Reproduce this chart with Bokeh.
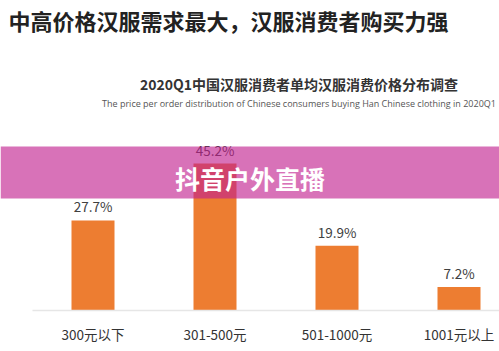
from bokeh.plotting import figure
from bokeh.models import Range1d, FixedTicker, Label, BoxAnnotation, ColumnDataSource
from bokeh.core.properties import value
from bokeh.embed import file_html
from bokeh.resources import INLINE

# ---- data ----
categories = ["300元以下", "301-500元", "501-1000元", "1001元以上"]
shares = [27.7, 45.2, 19.9, 7.2]
share_labels = ["27.7%", "45.2%", "19.9%", "7.2%"]

headline = "中高价格汉服需求最大，汉服消费者购买力强"
chart_title = "2020Q1中国汉服消费者单均汉服消费价格分布调查"
chart_subtitle = "The price per order distribution of Chinese consumers buying Han Chinese clothing in 2020Q1"
banner_text = "抖音户外直播"

CJK = "Noto Sans CJK SC"
W, H = 499, 351
PX_PER_CAT = 122.0
X0 = -92.5 / PX_PER_CAT
X1 = X0 + W / PX_PER_CAT
FRAME_H = 310
PX_PER_UNIT = 3.25
Y1 = FRAME_H / PX_PER_UNIT


def xd(px):
    return X0 + px / PX_PER_CAT


def yd(py):
    return (FRAME_H - py) / PX_PER_UNIT


xs = list(range(len(categories)))
src = ColumnDataSource(dict(x=xs, top=shares, lab=share_labels))

p = figure(width=W, height=H, output_backend="svg", toolbar_location=None,
           x_range=Range1d(X0, X1), y_range=Range1d(0, Y1),
           y_axis_location=None, min_border=0, min_border_bottom=H - FRAME_H)
p.background_fill_color = "white"
p.border_fill_color = "white"
p.outline_line_color = None
p.grid.visible = False

p.vbar(x="x", top="top", width=43 / PX_PER_CAT, bottom=0, source=src,
       fill_color="#ED7D31", line_color=None)
p.text(x="x", y="top", text="lab", source=src, y_offset=-14,
       text_align="center", text_baseline="middle",
       text_font=value(CJK), text_font_size="13.5px", text_color="#404040")

ax = p.xaxis[0]
ax.ticker = FixedTicker(ticks=xs)
ax.major_label_overrides = {i: c for i, c in zip(xs, categories)}
ax.major_tick_line_color = None
ax.minor_tick_line_color = None
ax.axis_line_color = "#E6E6E6"
ax.axis_line_width = 1.5
ax.bounds = (xd(32), X1)
ax.major_label_standoff = 7
ax.major_label_text_font = CJK
ax.major_label_text_font_size = "13.5px"
ax.major_label_text_color = "#333333"

p.add_layout(Label(x=xd(8), y=yd(19), text=headline, text_font=CJK,
                   text_font_size="22px", text_font_style="bold",
                   text_color="#222222", text_align="left", text_baseline="middle"))
p.add_layout(Label(x=xd(298.5), y=yd(83), text=chart_title, text_font=CJK,
                   text_font_size="14px", text_font_style="bold",
                   text_color="#333333", text_align="center", text_baseline="middle"))
p.add_layout(Label(x=xd(298.5), y=yd(103), text=chart_subtitle, text_font="Open Sans",
                   text_font_size="9px", text_color="#555555",
                   text_align="center", text_baseline="middle"))

p.add_layout(BoxAnnotation(bottom=yd(198), top=yd(146), fill_color="#C21F8E",
                           fill_alpha=0.63, line_color=None))
p.add_layout(Label(x=xd(249.5), y=yd(177), text=banner_text, text_font=CJK,
                   text_font_size="25px", text_font_style="bold",
                   text_color="white", text_align="center", text_baseline="middle"))

open("out.html", "w").write(file_html(p, INLINE))
